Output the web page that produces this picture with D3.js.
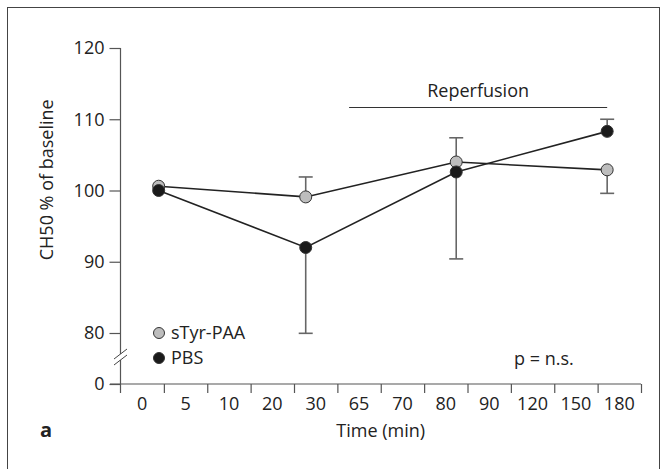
<!DOCTYPE html>
<html><head><meta charset="utf-8">
<script src="https://cdn.jsdelivr.net/npm/d3@7"></script>
<style>
body{margin:0;background:#fff;}
text{font-family:"Open Sans",sans-serif;fill:#222;}
</style></head>
<body><svg id="c" width="662" height="469"></svg>
<script>
const categories = ["0","5","10","20","30","65","70","80","90","120","150","180"];
const pointPos = [0.88, 4.27, 7.74, 11.22];           // position along category axis
const styrValues = [100.6, 99.1, 104.0, 102.9];
const styrErrEnd = [null, 101.9, 107.4, 99.6];
const pbsValues = [100.0, 92.0, 102.6, 108.3];
const pbsErrEnd = [null, 79.5, 90.4, 110.0];
const yTicks = [0, 80, 90, 100, 110, 120];
const reperfusion = [5.27, 11.22];

const svg = d3.select("#c");
svg.append("rect").attr("x",7.5).attr("y",7.5).attr("width",652).attr("height",470)
  .attr("fill","none").attr("stroke","#444").attr("stroke-width",1);

const x = d3.scaleLinear().domain([0, categories.length]).range([120.5, 641]);
const y = d3.scaleLinear().domain([0, 80, 120]).range([384, 333, 48]);

// Y axis
const yAxis = d3.axisLeft(y).tickValues(yTicks).tickSize(11).tickPadding(5).tickFormat(d3.format("d"));
const gy = svg.append("g").attr("transform","translate(120.5,0)").call(yAxis);
gy.select(".domain").remove();
gy.selectAll(".tick line").attr("stroke","#555").attr("stroke-width",1.2);
gy.selectAll(".tick text").style("font-size","18px").attr("fill","#222");
svg.append("line").attr("x1",120.5).attr("x2",120.5).attr("y1",y(120)).attr("y2",393)
  .attr("stroke","#555").attr("stroke-width",1.2);
// break
svg.append("rect").attr("x",116).attr("y",354).attr("width",9).attr("height",6).attr("fill","#fff");
[[0],[6]].forEach(([o])=>{
  svg.append("line").attr("x1",114).attr("x2",127).attr("y1",359+o).attr("y2",349+o)
    .attr("stroke","#444").attr("stroke-width",1);
});

// X axis
svg.append("line").attr("x1",110).attr("x2",641).attr("y1",y(0)).attr("y2",y(0))
  .attr("stroke","#555").attr("stroke-width",1.2);
const xAxis = d3.axisBottom(x).tickValues(d3.range(1, categories.length+1)).tickSize(9).tickFormat("");
const gx = svg.append("g").attr("transform",`translate(0,${y(0)})`).call(xAxis);
gx.select(".domain").remove();
gx.selectAll(".tick line").attr("stroke","#555").attr("stroke-width",1.2);
svg.append("g").selectAll("text").data(categories).join("text")
  .attr("x",(d,i)=>x(i+0.5)).attr("y",y(0)+26).attr("text-anchor","middle")
  .style("font-size","18px").text(d=>d);
svg.append("text").attr("x",x(6)).attr("y",437).attr("text-anchor","middle")
  .style("font-size","18px").text("Time (min)");
svg.append("text").attr("x",40).attr("y",437).style("font-size","20px").style("font-weight","bold").text("a");
svg.append("text").attr("transform",`translate(53,${y(101.5)}) rotate(-90)`).attr("text-anchor","middle")
  .style("font-size","18px").text("CH50 % of baseline");

// Reperfusion
svg.append("line").attr("x1",x(reperfusion[0])).attr("x2",x(reperfusion[1])).attr("y1",107.5).attr("y2",107.5)
  .attr("stroke","#333").attr("stroke-width",1.2);
svg.append("text").attr("x",(x(reperfusion[0])+x(reperfusion[1]))/2).attr("y",97).attr("text-anchor","middle")
  .style("font-size","18px").text("Reperfusion");

const line = d3.line().x((d,i)=>x(pointPos[i])).y(d=>y(d));
const series = [
  {vals: styrValues, err: styrErrEnd, fill:"#bdbdbd"},
  {vals: pbsValues, err: pbsErrEnd, fill:"#1a1a1a"}
];
// error bars
series.forEach(s=>{
  s.vals.forEach((v,i)=>{
    if (s.err[i]==null) return;
    const cx = x(pointPos[i]);
    svg.append("line").attr("x1",cx).attr("x2",cx).attr("y1",y(v)).attr("y2",y(s.err[i]))
      .attr("stroke","#666").attr("stroke-width",1.6);
    svg.append("line").attr("x1",cx-7).attr("x2",cx+7).attr("y1",y(s.err[i])).attr("y2",y(s.err[i]))
      .attr("stroke","#666").attr("stroke-width",1.6);
  });
});
series.forEach(s=>{
  svg.append("path").attr("d",line(s.vals)).attr("fill","none").attr("stroke","#222").attr("stroke-width",1.6);
});
series.forEach(s=>{
  svg.append("g").selectAll("circle").data(s.vals).join("circle")
    .attr("cx",(d,i)=>x(pointPos[i])).attr("cy",d=>y(d)).attr("r",6)
    .attr("fill",s.fill).attr("stroke","#333").attr("stroke-width",1);
});

// legend
const legend = [{name:"sTyr-PAA", fill:"#bdbdbd"},{name:"PBS", fill:"#1a1a1a"}];
legend.forEach((l,i)=>{
  const ly = 333 + i*25;
  svg.append("circle").attr("cx",159).attr("cy",ly).attr("r",5.5).attr("fill",l.fill).attr("stroke","#333").attr("stroke-width",1);
  svg.append("text").attr("x",171).attr("y",ly+6).style("font-size","18px").text(l.name);
});
svg.append("text").attr("x",514).attr("y",365).style("font-size","18px").text("p = n.s.");
</script></body></html>
